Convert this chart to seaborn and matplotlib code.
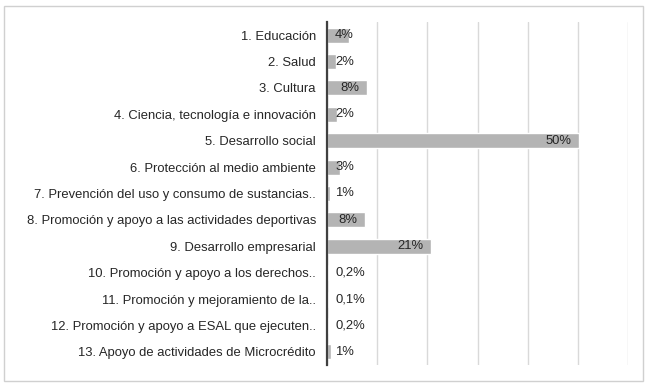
import matplotlib
matplotlib.use("Agg")
import matplotlib.pyplot as plt
import seaborn as sns
import pandas as pd
from matplotlib.patches import Rectangle

categorias = [
    "1. Educación",
    "2. Salud",
    "3. Cultura",
    "4. Ciencia, tecnología e innovación",
    "5. Desarrollo social",
    "6. Protección al medio ambiente",
    "7. Prevención del uso y consumo de sustancias..",
    "8. Promoción y apoyo a las actividades deportivas",
    "9. Desarrollo empresarial",
    "10. Promoción y apoyo a los derechos..",
    "11. Promoción y mejoramiento de la..",
    "12. Promoción y apoyo a ESAL que ejecuten..",
    "13. Apoyo de actividades de Microcrédito",
]
valores = [4.4, 1.8, 8.0, 2.0, 50.2, 2.6, 0.5, 7.6, 20.8, 0.2, 0.1, 0.2, 0.8]
etiquetas = ["4%", "2%", "8%", "2%", "50%", "3%", "1%", "8%", "21%",
             "0,2%", "0,1%", "0,2%", "1%"]

df = pd.DataFrame({"cat": categorias, "val": valores})

sns.set_theme(style="white")
plt.rcParams["font.family"] = ["Liberation Sans", "DejaVu Sans"]
texto = "#262626"
fs = 9.4

fig = plt.figure(figsize=(6.48, 3.87), dpi=100)
ax = fig.add_axes([327 / 648, 1 - 365 / 387, (628 - 327) / 648, (365 - 22) / 387])

sns.barplot(data=df, x="val", y="cat", ax=ax, color="#b4b4b4",
            saturation=1, width=0.57, orient="h")

ax.set_xlim(0, 60)
ax.set_xticks(range(0, 61, 10))
ax.set_xticklabels([])
ax.grid(axis="x", color="#d9d9d9", linewidth=1)
ax.set_axisbelow(True)
ax.set_xlabel("")
ax.set_ylabel("")
ax.tick_params(axis="y", length=0, pad=8, labelsize=fs, labelcolor=texto)
ax.tick_params(axis="x", length=0)
for s in ["top", "right", "bottom"]:
    ax.spines[s].set_visible(False)
ax.spines["left"].set_color("#404040")
ax.spines["left"].set_linewidth(1.6)

for i, (v, t) in enumerate(zip(valores, etiquetas)):
    if v >= 7:
        ax.text(v - 1.5, i, t, ha="right", va="center", fontsize=fs, color=texto)
    else:
        ax.text(1.6, i, t, ha="left", va="center", fontsize=fs, color=texto)

fig.patches.append(Rectangle((4 / 648, 1 - 381 / 387), 639 / 648, 375 / 387,
                             transform=fig.transFigure, fill=False,
                             edgecolor="#d0d0d0", linewidth=1))

fig.savefig("out.png", dpi=100)
